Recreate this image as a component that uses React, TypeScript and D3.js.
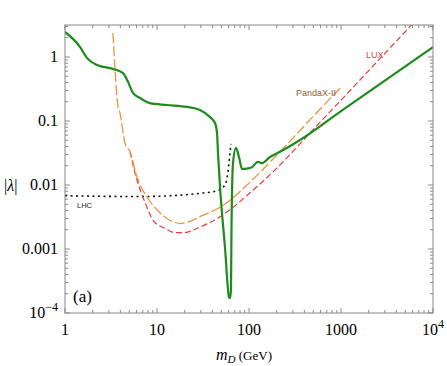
import React from 'react';
import * as d3 from 'd3';

// [m_D in GeV, |lambda|]
const relicCurve: [number, number][] = [
  [1, 2.46], [1.46, 1.43], [1.73, 0.97], [2.23, 0.75], [3.33, 0.65], [4.27, 0.56],
  [4.84, 0.41], [5.48, 0.274], [6.53, 0.229], [8.4, 0.19], [12.8, 0.178], [21.2, 0.166],
  [29.3, 0.149], [37.7, 0.115], [42.7, 0.093], [44.9, 0.065], [46, 0.032], [48.4, 0.0093],
  [54.8, 0.00107], [60.6, 1.78e-4], [62.1, 1.7e-4], [63.7, 2.3e-4], [64.5, 0.002],
  [67, 0.022], [72.2, 0.038], [78, 0.027], [84, 0.0178], [95, 0.018], [108, 0.019],
  [125, 0.023], [138, 0.022], [169, 0.0274], [217, 0.033], [358, 0.0505], [1000, 0.143],
  [10000, 1.43],
];

const pandaxCurve: [number, number][] = [
  [3.32, 2.37], [3.5, 0.63], [3.77, 0.166], [3.96, 0.133], [4.49, 0.045], [5.09, 0.033],
  [6.06, 0.0133], [7.78, 0.0065], [10, 0.0041], [12.8, 0.003], [15.7, 0.0026], [17.8, 0.0025],
  [22.7, 0.0027], [29.3, 0.0032], [48.4, 0.0045], [62.1, 0.0058], [102, 0.011], [217, 0.033],
  [496, 0.117], [1025, 0.35],
];

const luxCurve: [number, number][] = [
  [5.09, 0.033], [5.77, 0.0154], [7.78, 0.0045], [9.05, 0.0028], [12.2, 0.0021], [15.7, 0.0018],
  [19.2, 0.0018], [29.3, 0.0022], [48.4, 0.0032], [62.1, 0.0041], [102, 0.0075], [217, 0.0205],
  [358, 0.044], [496, 0.073], [1160, 0.265], [2665, 0.95], [6000, 3.3],
];

const lhcCurve: [number, number][] = [
  [1, 0.0068], [6.5, 0.0066], [19.2, 0.007], [31.5, 0.0075], [44.9, 0.0081], [54.8, 0.01],
  [58.9, 0.0154], [62.1, 0.0316], [63.7, 0.044],
];

const xTicks = [1, 10, 100, 1000, 10000];
const xTickLabels = ['1', '10', '100', '1000', '10^4'];
const yTicks = [1, 0.1, 0.01, 0.001, 1e-4];
const yTickLabels = ['1', '0.1', '0.01', '0.001', '10^-4'];

const left = 65, right = 433, top = 25, bottom = 313;

const x = d3.scaleLog().domain([1, 1e4]).range([left, right]);
const y = d3.scaleLog().domain([1e-4, Math.pow(10, 0.5)]).range([bottom, top]);

const line = d3.line<[number, number]>()
  .x(d => x(d[0]))
  .y(d => y(d[1]))
  .curve(d3.curveMonotoneX);

const serif = '"Liberation Serif", "DejaVu Serif", serif';
const sans = '"Liberation Sans", Arial, sans-serif';

function minorTicks(lo: number, hi: number) {
  const out: { v: number; major: boolean }[] = [];
  for (let e = Math.floor(Math.log10(lo)); e <= Math.ceil(Math.log10(hi)); e++) {
    for (let k = 1; k <= 9; k++) {
      const v = k * Math.pow(10, e);
      if (v >= lo * 0.999 && v <= hi * 1.001) out.push({ v, major: k === 1 });
    }
  }
  return out;
}

function Label({ text, ...rest }: any) {
  const parts = text.split('^');
  if (parts.length === 1) return <text {...rest}>{text}</text>;
  return (
    <text {...rest}>
      {parts[0]}
      <tspan dy={-7} fontSize={12}>{parts[1].replace('-', '\u2212')}</tspan>
    </text>
  );
}

const App = () => {
  const xt = minorTicks(1, 1e4);
  const yt = minorTicks(1e-4, Math.pow(10, 0.5));
  const frame = '#888';

  return (
    <svg width={447} height={366} style={{ position: 'absolute', left: 0, top: 0, background: '#fff' }}>
      <defs>
        <clipPath id="plot">
          <rect x={left} y={top} width={right - left} height={bottom - top} />
        </clipPath>
      </defs>

      {/* ticks, all four sides, inward */}
      {xt.map((t, i) => (
        <g key={'x' + i} stroke={frame} strokeWidth={1}>
          <line x1={x(t.v)} x2={x(t.v)} y1={bottom} y2={bottom - (t.major ? 5 : 3)} />
          <line x1={x(t.v)} x2={x(t.v)} y1={top} y2={top + (t.major ? 5 : 3)} />
        </g>
      ))}
      {yt.map((t, i) => (
        <g key={'y' + i} stroke={frame} strokeWidth={1}>
          <line y1={y(t.v)} y2={y(t.v)} x1={left} x2={left + (t.major ? 5 : 3)} />
          <line y1={y(t.v)} y2={y(t.v)} x1={right} x2={right - (t.major ? 5 : 3)} />
        </g>
      ))}

      <g clipPath="url(#plot)" fill="none">
        <path d={line(lhcCurve) || ''} stroke="#111" strokeWidth={1.6} strokeDasharray="2,3.5" />
        <path d={line(luxCurve) || ''} stroke="#ee3a3a" strokeWidth={1.2} strokeDasharray="6,3" />
        <path d={line(pandaxCurve) || ''} stroke="#e8953f" strokeWidth={1.3} strokeDasharray="10,3" />
        <path d={line(relicCurve) || ''} stroke="#1d8c1d" strokeWidth={2.2} />
      </g>

      <rect x={left} y={top} width={right - left} height={bottom - top} fill="none" stroke={frame} strokeWidth={1} />

      {xTicks.map((v, i) => (
        <Label key={'xl' + i} text={xTickLabels[i]} x={x(v)} y={335} textAnchor="middle" fontFamily={serif} fontSize={16} />
      ))}
      {yTicks.map((v, i) => (
        <Label key={'yl' + i} text={yTickLabels[i]} x={58} y={y(v) + 5} textAnchor="end" fontFamily={serif} fontSize={16} />
      ))}

      <text x={4} y={191} fontFamily={serif} fontSize={16}>
        |<tspan fontStyle="italic">λ</tspan>|
      </text>
      <text x={216} y={360} fontFamily={serif} fontSize={16}>
        <tspan fontStyle="italic">m</tspan>
        <tspan fontStyle="italic" fontSize={11} dy={3}>D</tspan>
        <tspan fontSize={13} dy={-3}> (GeV)</tspan>
      </text>
      <text x={73} y={302} fontFamily={serif} fontSize={17}>(a)</text>

      <text x={77} y={208} fontFamily={sans} fontSize={7.5} fill="#222">LHC</text>
      <text x={296} y={96} fontFamily={sans} fontSize={9} fill="#94622f">PandaX-II</text>
      <text x={366} y={58} fontFamily={sans} fontSize={9} fill="#d94452">LUX</text>
    </svg>
  );
};

export default App;
